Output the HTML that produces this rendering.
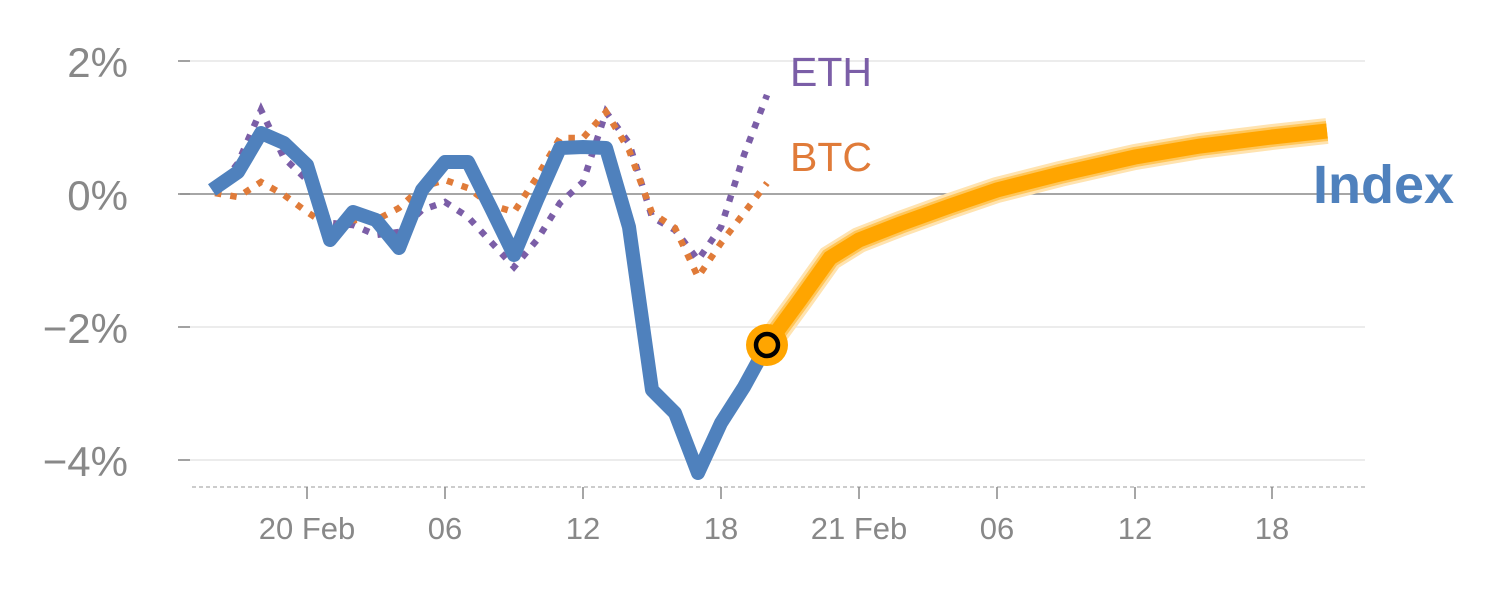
<!DOCTYPE html>
<html><head><meta charset="utf-8"><style>
html,body{margin:0;padding:0;background:#fff;}
svg{display:block;font-family:"Liberation Sans",Arial,sans-serif;}
</style></head><body>
<svg width="1500" height="600" viewBox="0 0 1500 600">
<g stroke="#e6e6e6" stroke-width="1.5">
<line x1="180" y1="61" x2="1365" y2="61"/>
<line x1="180" y1="327" x2="1365" y2="327"/>
<line x1="180" y1="460" x2="1365" y2="460"/>
</g>
<line x1="180" y1="194" x2="1365" y2="194" stroke="#888" stroke-width="1.5"/>
<line x1="192" y1="487" x2="1365" y2="487" stroke="#ccc" stroke-width="2" stroke-dasharray="4,3"/>
<g stroke="#888" stroke-width="1.5">
<line x1="178" y1="61" x2="190" y2="61"/><line x1="178" y1="194" x2="190" y2="194"/>
<line x1="178" y1="327" x2="190" y2="327"/><line x1="178" y1="460" x2="190" y2="460"/>
<line x1="307" y1="487" x2="307" y2="499"/><line x1="445" y1="487" x2="445" y2="499"/>
<line x1="583" y1="487" x2="583" y2="499"/><line x1="721" y1="487" x2="721" y2="499"/>
<line x1="859" y1="487" x2="859" y2="499"/><line x1="997" y1="487" x2="997" y2="499"/>
<line x1="1135" y1="487" x2="1135" y2="499"/><line x1="1272" y1="487" x2="1272" y2="499"/>
</g>
<g fill="#888" font-size="42" text-anchor="end">
<text x="128" y="77">2%</text><text x="128" y="210">0%</text>
<text x="128" y="343">−2%</text><text x="128" y="476">−4%</text>
</g>
<g fill="#888" font-size="31" text-anchor="middle">
<text x="307" y="539">20 Feb</text><text x="445" y="539">06</text><text x="583" y="539">12</text>
<text x="721" y="539">18</text><text x="859" y="539">21 Feb</text><text x="997" y="539">06</text>
<text x="1135" y="539">12</text><text x="1272" y="539">18</text>
</g>
<polyline fill="none" stroke="#7b5ea7" stroke-width="6.5" stroke-dasharray="6.5,9" points="215,193 238,163 261,110 284,158 307,180 330,223 353,225 376,235 399,232 422,210 445,202 468,217 491,242 514,267 537,240 560,203 583,182 606,112 629,143 652,217 675,230 698,260 721,227 744,155 767,95"/>
<polyline fill="none" stroke="#e07b39" stroke-width="6.5" stroke-dasharray="6.5,9" points="215,193 238,197 261,182 284,195 307,212 330,227 353,220 376,220 399,208 422,187 445,180 468,188 491,205 514,212 537,177 560,138 583,138 606,112 629,150 652,213 675,228 698,277 721,243 744,213 767,183"/>
<polyline fill="none" stroke="#ffe3b0" stroke-width="26" points="767,345 800,300 830,258 859,240 900,224 950,206 997,190 1060,174 1135,157 1200,146 1272,137 1327,131"/>
<polyline fill="none" stroke="#ffc65a" stroke-width="20" points="767,345 800,300 830,258 859,240 900,224 950,206 997,190 1060,174 1135,157 1200,146 1272,137 1327,131"/>
<polyline fill="none" stroke="#ffa500" stroke-width="15" points="767,345 800,300 830,258 859,240 900,224 950,206 997,190 1060,174 1135,157 1200,146 1272,137 1327,131"/>
<polyline fill="none" stroke="#4f81bd" stroke-width="14" stroke-linejoin="round" points="212,190 238,172 261,133 284,143 307,165 330,240 353,212 376,220 399,248 422,190 445,162 468,162 491,208 514,255 537,200 560,148 583,147 606,148 629,227 652,390 675,413 698,473 721,423 744,387 767,345"/>
<circle cx="767" cy="345" r="21" fill="#ffa500"/>
<circle cx="767" cy="345" r="11" fill="#ffa500" stroke="#000" stroke-width="4.5"/>
<text x="790" y="86" fill="#7b5ea7" font-size="41">ETH</text>
<text x="790" y="171" fill="#e07b39" font-size="41">BTC</text>
<text x="1313" y="203" fill="#4f81bd" font-size="54" font-weight="bold">Index</text>
</svg>
</body></html>
